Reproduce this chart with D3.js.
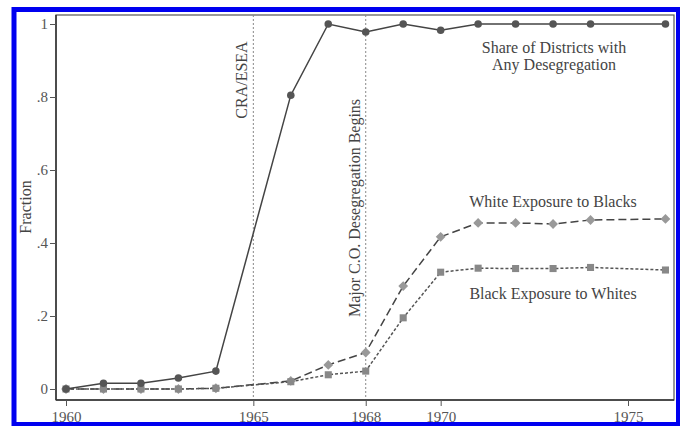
<!DOCTYPE html>
<html>
<head>
<meta charset="utf-8">
<script src="https://cdn.jsdelivr.net/npm/d3@7"></script>
<style>
  html, body { margin: 0; padding: 0; background: #fff; }
  svg { display: block; }
  text { font-family: "Liberation Serif", "Times New Roman", serif; }
</style>
</head>
<body>
<svg id="chart" width="680" height="426"></svg>
<script>
// School desegregation trends, 1960-1976 (missing years left out of each series)
const years = [1960, 1961, 1962, 1963, 1964, 1965, 1966, 1967, 1968, 1969, 1970, 1971, 1972, 1973, 1974, 1975, 1976];
const shareDistricts = [0, 0.016, 0.016, 0.03, 0.049, null, 0.805, 1.0, 0.978, 1.0, 0.983, 1.0, 1.0, 1.0, 1.0, null, 1.0];
const whiteExposure = [0, 0, 0, 0, 0.002, null, 0.022, 0.066, 0.10, 0.282, 0.417, 0.455, 0.455, 0.452, 0.463, null, 0.466];
const blackExposure = [0, 0, 0, 0, 0.002, null, 0.020, 0.039, 0.049, 0.195, 0.32, 0.331, 0.33, 0.33, 0.333, null, 0.326];

const xTicks = [1960, 1965, 1968, 1970, 1975];
const yTicks = [0, 0.2, 0.4, 0.6, 0.8, 1];
const yTickLabels = ["0", ".2", ".4", ".6", ".8", "1"];
const eventYears = [1965, 1968];
const eventLabels = ["CRA/ESEA", "Major C.O. Desegregation Begins"];

const svg = d3.select("#chart");
const x = d3.scaleLinear().domain([1960, 1975]).range([66, 628]);
const y = d3.scaleLinear().domain([0, 1]).range([389, 24]);

const frame = { left: 56, right: 674, top: 15, bottom: 400 };

// plot region border
svg.append("rect")
  .attr("x", frame.left).attr("y", frame.top)
  .attr("width", frame.right - frame.left).attr("height", frame.bottom - frame.top)
  .attr("fill", "#fff").attr("stroke", "#555").attr("stroke-width", 1.2);

// event reference lines
svg.selectAll(".event")
  .data(eventYears)
  .join("line")
  .attr("x1", d => x(d)).attr("x2", d => x(d))
  .attr("y1", frame.top).attr("y2", frame.bottom)
  .attr("stroke", "#888").attr("stroke-width", 1).attr("stroke-dasharray", "2,2");

// event labels (rotated)
const eventLabelPos = [{ bx: 247, cy: 80 }, { bx: 360, cy: 208 }];
svg.selectAll(".eventLabel")
  .data(eventLabels)
  .join("text")
  .attr("transform", (d, i) => `translate(${eventLabelPos[i].bx},${eventLabelPos[i].cy}) rotate(-90)`)
  .attr("text-anchor", "middle")
  .attr("font-size", 16)
  .attr("fill", "#444")
  .text(d => d);

// axes
const xAxis = d3.axisBottom(x).tickValues(xTicks).tickSize(6).tickFormat(d3.format("d"));
const gx = svg.append("g").attr("transform", `translate(0,${frame.bottom})`).call(xAxis);
gx.select(".domain").attr("stroke", "#333").attr("stroke-width", 1.5)
  .attr("d", `M${frame.left},0H${frame.right}`);
gx.selectAll(".tick line").attr("stroke", "#555");
gx.selectAll(".tick text").attr("font-size", 15).attr("fill", "#555").attr("y", 11)
  .attr("font-family", "Liberation Serif, Times New Roman, serif");

const yAxis = d3.axisLeft(y).tickValues(yTicks).tickSize(6).tickPadding(2)
  .tickFormat((d, i) => yTickLabels[i]);
const gy = svg.append("g").attr("transform", `translate(${frame.left},0)`).call(yAxis);
gy.select(".domain").attr("stroke", "#333").attr("stroke-width", 1.5)
  .attr("d", `M0,${frame.top}V${frame.bottom}`);
gy.selectAll(".tick line").attr("stroke", "#555");
gy.selectAll(".tick text").attr("font-size", 15).attr("fill", "#555")
  .attr("font-family", "Liberation Serif, Times New Roman, serif");

// y axis title
svg.append("text")
  .attr("transform", "translate(31,207) rotate(-90)")
  .attr("text-anchor", "middle")
  .attr("font-size", 16)
  .attr("fill", "#444")
  .text("Fraction");

// series
function points(values) {
  return years.map((yr, i) => ({ yr, v: values[i] })).filter(d => d.v !== null);
}
const line = d3.line().x(d => x(d.yr)).y(d => y(d.v));

const series = [
  { values: whiteExposure, stroke: "#444", dash: "8,4", marker: "diamond", fill: "#999" },
  { values: blackExposure, stroke: "#555", dash: "3,2", marker: "square", fill: "#888" },
  { values: shareDistricts, stroke: "#444", dash: null, marker: "circle", fill: "#555" }
];

series.forEach(s => {
  const pts = points(s.values);
  svg.append("path")
    .datum(pts)
    .attr("d", line)
    .attr("fill", "none")
    .attr("stroke", s.stroke)
    .attr("stroke-width", 1.5)
    .attr("stroke-dasharray", s.dash);
  let shape;
  if (s.marker === "circle") shape = d3.symbol(d3.symbolCircle, 45)();
  else if (s.marker === "square") shape = d3.symbol(d3.symbolSquare, 50)();
  else shape = d3.symbol(d3.symbolSquare, 48)();   // rotated below into a diamond
  svg.append("g").selectAll("path")
    .data(pts)
    .join("path")
    .attr("transform", d => `translate(${x(d.yr)},${y(d.v)})` + (s.marker === "diamond" ? " rotate(45)" : ""))
    .attr("d", shape)
    .attr("fill", s.fill)
    .attr("stroke", "none");
});

// series labels
const seriesLabels = [
  { lines: ["Share of Districts with", "Any Desegregation"], cx: 554, base: [53, 70] },
  { lines: ["White Exposure to Blacks"], cx: 553, base: [207] },
  { lines: ["Black Exposure to Whites"], cx: 553, base: [299] }
];
seriesLabels.forEach(l => {
  l.lines.forEach((t, i) => {
    svg.append("text")
      .attr("x", l.cx).attr("y", l.base[i])
      .attr("text-anchor", "middle")
      .attr("font-size", 16)
      .attr("fill", "#444")
      .text(t);
  });
});

// outer highlight frame
svg.append("rect")
  .attr("x", 14).attr("y", 9.5)
  .attr("width", 664.5).attr("height", 415)
  .attr("fill", "none")
  .attr("stroke", "#0000f0")
  .attr("stroke-width", 5);
</script>
</body>
</html>
